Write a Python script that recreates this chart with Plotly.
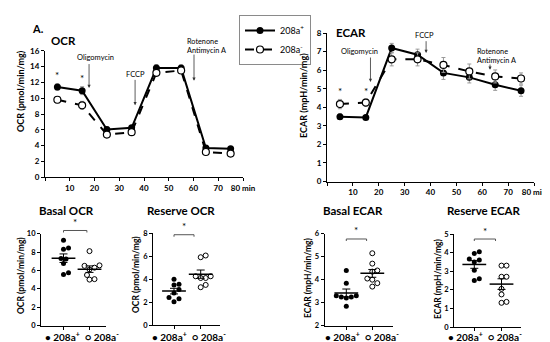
import numpy as np
import plotly.graph_objects as go

W, H = 550, 342
FONT = "Lato"

# ---------------- data ----------------
time_min = [5, 15, 25, 35, 45, 55, 65, 75]
ocr_pos = [11.4, 10.95, 6.05, 6.25, 13.8, 13.8, 3.7, 3.6]
ocr_pos_err = [0.4, 0.5, 0.3, 0.3, 0.45, 0.4, 0.25, 0.2]
ocr_neg = [9.8, 9.1, 5.4, 5.7, 13.2, 13.5, 3.2, 3.0]
ocr_neg_err = [0.4, 0.5, 0.3, 0.2, 0.4, 0.3, 0.2, 0.2]

ecar_pos = [3.49, 3.45, 7.19, 6.83, 5.85, 5.61, 5.21, 4.89]
ecar_pos_err = [0.15, 0.1, 0.25, 0.3, 0.35, 0.3, 0.3, 0.3]
ecar_neg = [4.17, 4.25, 6.58, 6.58, 6.28, 5.93, 5.66, 5.55]
ecar_neg_err = [0.25, 0.2, 0.35, 0.35, 0.4, 0.4, 0.35, 0.3]

basal_ocr_pos = [9.3, 8.45, 8.3, 7.3, 7.25, 6.75, 5.55, 5.75]
basal_ocr_neg = [8.1, 6.5, 6.55, 6.3, 6.1, 5.5, 5.0, 5.05]
reserve_ocr_pos = [4.0, 3.5, 3.55, 3.1, 2.8, 2.4, 2.3, 2.05]
reserve_ocr_neg = [5.9, 6.05, 4.1, 4.1, 4.25, 4.25, 3.3, 3.5]
basal_ecar_pos = [4.4, 3.85, 3.3, 3.25, 3.25, 3.3, 3.2, 2.85]
basal_ecar_neg = [5.15, 4.7, 4.4, 4.35, 4.0, 4.05, 3.85, 3.7]
reserve_ecar_pos = [3.95, 4.05, 3.65, 3.5, 3.6, 3.05, 2.6, 2.5]
reserve_ecar_neg = [3.3, 3.3, 2.7, 2.7, 2.05, 1.75, 1.3, 1.35]

time_ticks = [0, 10, 20, 30, 40, 50, 60, 70, 80]
time_labels = ["", "10", "20", "30", "40", "50", "60", "70", "80\u00a0min"]
group_names = ["208a<sup>+</sup>", "208a<sup>-</sup>"]

# ---------------- layout helpers ----------------
def xdom(a, b):
    return [a / W, b / W]

def ydom(top, bottom):
    return [1 - bottom / H, 1 - top / H]

def cat_range(left, right, t1, t2):
    u = t2 - t1
    return [1 - (t1 - left) / u, 2 + (right - t2) / u]

fig = go.Figure()

tickf = dict(family=FONT, size=8, color="black", weight=700)
axis_common = dict(showline=True, linecolor="black", linewidth=1, ticks="outside",
                   ticklen=3, tickcolor="black", showgrid=False, zeroline=False,
                   tickfont=tickf, automargin=False)

top_ocr = dict(x=(37, 235), y=(42.7, 169.3), yr=[0, 16], title_x=12, title_y=83)
top_ecar = dict(x=(319, 526), y=(25, 173.5), yr=[0, 8], title_x=295, title_y=88)

bottom = [
    dict(name="Basal OCR", xl=33, xr=98, t1=55.5, t2=81.5, yt=225.7, yb=317.5, yr=[0, 10], dt=2,
         ytitle="OCR (pmol/min/mg)", pos=basal_ocr_pos, neg=basal_ocr_neg, by=10.35, be=1.9,
         title_x=58, leg_x=74, yt_x=13, yt_y=268),
    dict(name="Reserve OCR", xl=145, xr=212, t1=166, t2=192.7, yt=225, yb=317.3, yr=[0, 8], dt=2,
         ytitle="OCR (pmol/min/mg)", pos=reserve_ocr_pos, neg=reserve_ocr_neg, by=7.85, be=1.75,
         title_x=173, leg_x=181, yt_x=128, yt_y=267),
    dict(name="Basal ECAR", xl=316.7, xr=385, t1=338.3, t2=364.3, yt=225.7, yb=317.7, yr=[2, 6], dt=1,
         ytitle="ECAR (mpH/min/mg)", pos=basal_ecar_pos, neg=basal_ecar_neg, by=5.77, be=1.78,
         title_x=345, leg_x=354, yt_x=300, yt_y=270),
    dict(name="Reserve ECAR", xl=446, xr=513, t1=466.3, t2=493.5, yt=226, yb=319, yr=[0, 5], dt=1,
         ytitle="ECAR (mpH/min/mg)", pos=reserve_ecar_pos, neg=reserve_ecar_neg, by=4.73, be=1.78,
         title_x=475, leg_x=477, yt_x=430, yt_y=271),
]

layout = dict(
    width=W, height=H, margin=dict(l=0, r=0, t=0, b=0, autoexpand=False),
    paper_bgcolor="white", plot_bgcolor="white",
    font=dict(family=FONT, color="black"),
    showlegend=True,
    legend=dict(x=231 / W, y=1 - 7 / H, xref="container", yref="container",
                xanchor="left", yanchor="top",
                bordercolor="#8a8a8a", borderwidth=1, bgcolor="white",
                font=dict(family=FONT, size=9, color="black"),
                itemwidth=30, tracegroupgap=0, traceorder="normal"),
)

layout["xaxis"] = dict(axis_common, domain=xdom(*top_ocr["x"]), range=[0, 80],
                       tickvals=time_ticks, ticktext=time_labels, anchor="y")
layout["yaxis"] = dict(axis_common, domain=ydom(*top_ocr["y"]), range=top_ocr["yr"],
                       dtick=2, anchor="x")
layout["xaxis2"] = dict(axis_common, domain=xdom(*top_ecar["x"]), range=[0, 80],
                        tickvals=time_ticks, ticktext=time_labels, anchor="y2")
layout["yaxis2"] = dict(axis_common, domain=ydom(*top_ecar["y"]), range=top_ecar["yr"],
                        dtick=1, anchor="x2")

# ---------------- top traces ----------------
def top_traces(xa, ya, pos, pos_err, neg, neg_err, legend):
    fig.add_trace(go.Scatter(
        x=time_min, y=pos, xaxis=xa, yaxis=ya, mode="lines+markers", name=group_names[0],
        showlegend=legend, legendrank=1,
        line=dict(color="black", width=2),
        marker=dict(symbol="circle", size=7, color="black"),
        error_y=dict(type="data", array=pos_err, color="#9a9a9a", thickness=1, width=2)))
    fig.add_trace(go.Scatter(
        x=time_min, y=neg, xaxis=xa, yaxis=ya, mode="lines+markers", name=group_names[1],
        showlegend=legend, legendrank=2,
        line=dict(color="black", width=2, dash="dash"),
        marker=dict(symbol="circle", size=7, color="white", line=dict(color="black", width=1.2)),
        error_y=dict(type="data", array=neg_err, color="#9a9a9a", thickness=1, width=2)))

top_traces("x", "y", ocr_pos, ocr_pos_err, ocr_neg, ocr_neg_err, True)
top_traces("x2", "y2", ecar_pos, ecar_pos_err, ecar_neg, ecar_neg_err, False)

annotations = []
def txt(x, y, text, xref, yref, size=7.5, bold=False, xanchor="center", yanchor="middle",
        angle=0, align="center"):
    annotations.append(dict(x=x, y=y, xref=xref, yref=yref, text=text, showarrow=False,
                            xanchor=xanchor, yanchor=yanchor, textangle=angle, align=align,
                            font=dict(family=FONT, size=size, color="black",
                                      weight=700 if bold else 400)))

def arrow(x, y0, y1, xref, yref):
    annotations.append(dict(x=x, y=y1, ax=x, ay=y0, xref=xref, yref=yref, axref=xref,
                            ayref=yref, text="", showarrow=True, arrowhead=2, arrowsize=0.8,
                            arrowwidth=0.8, arrowcolor="#333"))

def data_to_paper(panel, xv, yv):
    (x0, x1), (yt, yb), yr = panel["x"], panel["y"], panel["yr"]
    px = x0 + xv / 80 * (x1 - x0)
    py = yb - (yv - yr[0]) / (yr[1] - yr[0]) * (yb - yt)
    return px / W, 1 - py / H

# y-axis titles of the time-course panels
txt(top_ocr["title_x"] / W, 1 - top_ocr["title_y"] / H, "OCR (pmol/min/mg)", "paper", "paper",
    size=9, bold=True, angle=-90)
txt(top_ecar["title_x"] / W, 1 - top_ecar["title_y"] / H, "ECAR (mpH/min/mg)", "paper", "paper",
    size=9, bold=True, angle=-90)

# OCR annotations
txt(20.2, 15.2, "Oligomycin", "x", "y")
arrow(17.8, 14.5, 11.3, "x", "y")
txt(36.4, 13.05, "FCCP", "x", "y")
arrow(36.4, 12.5, 9.1, "x", "y")
px, py = data_to_paper(top_ocr, 56.4, 16.65)
txt(px, py, "Rotenone<br>Antimycin A", "paper", "paper", size=7.3, xanchor="left", align="left")
arrow(60.2, 15.7, 12.2, "x", "y")
txt(5, 12.9, "*", "x", "y", size=10)
txt(15, 12.6, "*", "x", "y", size=10)
# ECAR annotations
txt(12.6, 7.0, "Oligomycin", "x2", "y2")
arrow(16.8, 6.76, 5.36, "x2", "y2")
txt(37.8, 7.87, "FCCP", "x2", "y2")
arrow(38.3, 7.64, 6.92, "x2", "y2")
txt(57.1, 6.76, "Rotenone<br>Antimycin A", "x2", "y2", size=7.3, xanchor="left", align="left")
arrow(63, 6.38, 6.02, "x2", "y2")
txt(5, 4.9, "*", "x2", "y2", size=10)
txt(15, 4.9, "*", "x2", "y2", size=10)

# panel titles
txt(30 / W, 1 - 21 / H, "A.", "paper", "paper", size=11, bold=True)
txt(55 / W, 1 - 32 / H, "OCR", "paper", "paper", size=11.5, bold=True)
txt(343 / W, 1 - 25 / H, "ECAR", "paper", "paper", size=11.5, bold=True)

# ---------------- bottom panels ----------------
def swarm(values, px_per_y, px_per_x, dot=5.0, step=2.5):
    vals = np.asarray(values, dtype=float)
    order = np.argsort(vals)
    placed = []
    offs = np.zeros(len(vals))
    cands = [0.0] + [s * j * step for j in range(1, 12) for s in (1, -1)]
    for i in order:
        ypx = vals[i] * px_per_y
        for c in cands:
            if all((c - qx) ** 2 + (ypx - qy) ** 2 >= dot ** 2 for qx, qy in placed):
                break
        placed.append((c, ypx))
        offs[i] = c / px_per_x
    return offs

shapes = []
for k, p in enumerate(bottom):
    n = k + 3
    xa, ya = f"x{n}", f"y{n}"
    xr = cat_range(p["xl"], p["xr"], p["t1"], p["t2"])
    layout[f"xaxis{n}"] = dict(axis_common, domain=xdom(p["xl"], p["xr"]), range=xr,
                               tickvals=[1, 2], ticktext=["", ""], anchor=ya)
    layout[f"yaxis{n}"] = dict(axis_common, domain=ydom(p["yt"], p["yb"]), range=p["yr"],
                               dtick=p["dt"], anchor=xa, tickfont=dict(tickf, size=7.5))
    px_per_y = (p["yb"] - p["yt"]) / (p["yr"][1] - p["yr"][0])
    px_per_x = p["t2"] - p["t1"]
    for g, vals in enumerate([p["pos"], p["neg"]]):
        xc = g + 1
        offs = swarm(vals, px_per_y, px_per_x)
        if g == 0:
            mk = dict(symbol="circle", size=5, color="black")
        else:
            mk = dict(symbol="circle", size=5, color="white", line=dict(color="black", width=1))
        fig.add_trace(go.Scatter(x=xc + offs, y=vals, xaxis=xa, yaxis=ya, mode="markers",
                                 marker=mk, showlegend=False))
        arr = np.asarray(vals, dtype=float)
        mean = arr.mean()
        sem = arr.std(ddof=1) / np.sqrt(len(arr))
        fig.add_trace(go.Scatter(x=[xc], y=[mean], xaxis=xa, yaxis=ya, mode="markers",
                                 marker=dict(symbol="line-ew", size=17,
                                             line=dict(color="black", width=1.5)),
                                 error_y=dict(type="data", array=[sem], color="black",
                                              thickness=1, width=4),
                                 showlegend=False))
    def to_px_x(v):
        return (p["xl"] + (v - xr[0]) / (xr[1] - xr[0]) * (p["xr"] - p["xl"])) / W
    def to_px_y(v):
        return 1 - (p["yb"] - (v - p["yr"][0]) * px_per_y) / H
    bx0, bx1 = to_px_x(1.0), to_px_x(p["be"])
    by = to_px_y(p["by"])
    tick = 2.0 / H
    shapes.append(dict(type="path", xref="paper", yref="paper",
                       path=f"M {bx0} {by - tick} L {bx0} {by} L {bx1} {by} L {bx1} {by - tick}",
                       line=dict(color="#555", width=1)))
    txt((bx0 + bx1) / 2, by + 0.5 / H, "*", "paper", "paper", size=10, yanchor="bottom")
    txt(p["title_x"] / W, 1 - 202 / H, p["name"], "paper", "paper", size=11.5, bold=True)
    txt(p["yt_x"] / W, 1 - p["yt_y"] / H, p["ytitle"], "paper", "paper", size=8.5, bold=True,
        angle=-90)
    txt(p["leg_x"] / W, 1 - 328 / H,
        "\u2022 208a<sup>+</sup>  \u25cb 208a<sup>-</sup>", "paper", "paper", size=10, bold=True)

layout["annotations"] = annotations
layout["shapes"] = shapes
fig.update_layout(**layout)
fig.write_html("out.html")
